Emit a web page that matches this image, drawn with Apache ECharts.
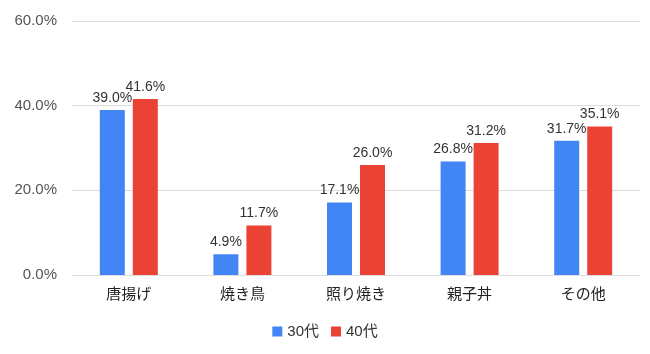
<!DOCTYPE html>
<html><head><meta charset="utf-8">
<script src="https://cdn.jsdelivr.net/npm/echarts@6/dist/echarts.min.js"></script>
<style>html,body{margin:0;padding:0;background:#fff}#c{width:650px;height:354px}</style>
</head><body><div id="c"></div>
<script>
const categories = ['唐揚げ','焼き鳥','照り焼き','親子丼','その他'];
const s30 = [39.0, 4.9, 17.1, 26.8, 31.7];
const s40 = [41.6, 11.7, 26.0, 31.2, 35.1];
const seriesNames = ['30代','40代'];
const font = '"Liberation Sans", "Noto Sans CJK JP", sans-serif';
const chart = echarts.init(document.getElementById('c'));
const lbl = {show:true, position:'top', distance:5, color:'#333', fontSize:14, fontFamily:font, formatter:p=>p.value.toFixed(1)+'%'};
chart.setOption({
  animation:false,
  grid:{left:72, right:10, top:21, bottom:79},
  legend:{bottom:10, left:'center', itemWidth:10, itemHeight:10, itemGap:12, icon:'rect',
    textStyle:{fontSize:15, color:'#333', fontFamily:font}, data:seriesNames},
  xAxis:{type:'category', data:categories, axisTick:{show:false},
    axisLine:{show:true, lineStyle:{color:'#ddd'}},
    axisLabel:{fontSize:15, color:'#222', margin:12, fontFamily:font}},
  yAxis:{type:'value', min:0, max:60, interval:20,
    axisLabel:{formatter:v=>v.toFixed(1)+'%', fontSize:15, color:'#555', margin:15, fontFamily:font},
    splitLine:{lineStyle:{color:'#ddd'}}},
  series:[
    {name:seriesNames[0], type:'bar', data:s30, barWidth:25, barGap:'32%', itemStyle:{color:'#4285F4'}, label:lbl},
    {name:seriesNames[1], type:'bar', data:s40, barWidth:25, itemStyle:{color:'#EA4335'}, label:lbl}
  ]
});
</script></body></html>
